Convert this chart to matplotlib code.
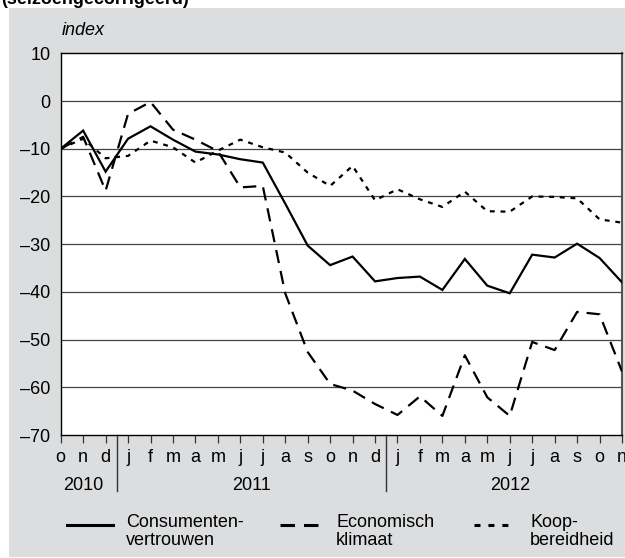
import matplotlib
matplotlib.use("Agg")
import matplotlib.pyplot as plt
from matplotlib.lines import Line2D
from matplotlib.patches import Rectangle
from matplotlib.transforms import blended_transform_factory
import numpy as np

plt.rcParams['font.family'] = ['Liberation Sans', 'DejaVu Sans']

# ---- data ----
months = ['o', 'n', 'd', 'j', 'f', 'm', 'a', 'm', 'j', 'j', 'a', 's', 'o', 'n', 'd',
          'j', 'f', 'm', 'a', 'm', 'j', 'j', 'a', 's', 'o', 'n']
month_year = ['2010'] * 3 + ['2011'] * 12 + ['2012'] * 11
years = ['2010', '2011', '2012']

consumentenvertrouwen = [-10, -6.2, -14.8, -7.9, -5.3, -8.1, -10.6, -11.2, -12.2, -12.9,
                         -21.5, -30.3, -34.4, -32.6, -37.8, -37.1, -36.8, -39.6, -33.1,
                         -38.7, -40.3, -32.2, -32.8, -29.9, -32.9, -38.0]
economisch_klimaat = [-10, -7.5, -18.8, -2.7, -0.2, -6.0, -8.1, -10.5, -18.1, -17.8,
                      -40.3, -52.6, -59.3, -60.7, -63.5, -65.8, -61.9, -66.0, -53.3,
                      -62.1, -66.0, -50.5, -52.2, -44.2, -44.7, -56.7]
koopbereidheid = [-10, -7.9, -12.0, -11.5, -8.3, -9.7, -12.9, -10.4, -8.1, -9.7,
                  -10.8, -15.0, -17.8, -13.6, -20.8, -18.5, -20.6, -22.2, -19.0,
                  -23.1, -23.2, -20.0, -20.1, -20.4, -24.8, -25.5]
series_labels = ['Consumenten-\nvertrouwen', 'Economisch\nklimaat', 'Koop-\nbereidheid']
yticks = [10, 0, -10, -20, -30, -40, -50, -60, -70]

# ---- figure ----
W, H = 625, 558
fig = plt.figure(figsize=(W / 100, H / 100), dpi=100)
fig.patch.set_facecolor('white')

def fx(px):
    return px / W

def fy(py):
    return 1 - py / H

gray = '#dcdddf'
fig.patches.append(Rectangle((fx(9), fy(556.7)), fx(625) - fx(9), fy(8.3) - fy(556.7),
                             transform=fig.transFigure, facecolor=gray, edgecolor='none',
                             zorder=-10))

left, right, top, bottom = 60.7, 622, 53.3, 435
ax = fig.add_axes([fx(left), fy(bottom), fx(right) - fx(left), fy(top) - fy(bottom)])
ax.set_facecolor('white')

x = np.arange(len(months))
ax.plot(x, consumentenvertrouwen, color='black', lw=1.6, solid_joinstyle='miter', zorder=3)
ax.plot(x, economisch_klimaat, color='black', lw=1.6, dashes=(6.0, 3.6), zorder=3)
ax.plot(x, koopbereidheid, color='black', lw=1.6, dashes=(2.2, 2.6), zorder=3)

ax.set_xlim(0, len(months) - 1)
ax.set_ylim(-70, 10)
ax.set_yticks(yticks)
ax.set_yticklabels([('\u2013' + str(abs(v))) if v < 0 else str(v) for v in yticks],
                   fontsize=13)
ax.tick_params(axis='y', length=0, pad=7.5)
for v in yticks[1:-1]:
    ax.axhline(v, color='#444444', lw=0.9, zorder=1)
for s in ax.spines.values():
    s.set_color('black')
    s.set_linewidth(1.0)
ax.spines['right'].set_color('#555555')
ax.spines['right'].set_linewidth(1.5)

ax.set_xticks(x)
ax.tick_params(axis='x', length=5.8, width=0.9, color='#333333', labelbottom=False)

tr = blended_transform_factory(ax.transData, fig.transFigure)
for i, m in enumerate(months):
    ax.text(i, fy(462), m, transform=tr, ha='center', va='baseline', fontsize=13,
            clip_on=False)
for yr in years:
    idx = [i for i, y in enumerate(month_year) if y == yr]
    ax.text(np.mean(idx), fy(490), yr, transform=tr, ha='center', va='baseline',
            fontsize=13, clip_on=False)
# year dividers
for i in range(1, len(month_year)):
    if month_year[i] != month_year[i - 1]:
        ax.add_line(Line2D([i - 0.5, i - 0.5], [fy(bottom), fy(491)], transform=tr,
                           color='#333333', lw=1.0, clip_on=False))

# titles
fig.text(fx(1), fy(3.5), '(seizoengecorrigeerd)', fontsize=13, fontweight='bold',
         va='baseline', ha='left')
fig.text(fx(61.7), fy(35), 'index', fontsize=13, style='italic', va='baseline', ha='left')

# legend (manual)
styles = [dict(), dict(dashes=(4.75, 2.95)), dict(dashes=(1.96, 2.6))]
key_x = [(67, 113), (280, 318), (474, 508)]
text_x = [125.7, 336, 530]
for lab, st, (x0, x1), tx in zip(series_labels, styles, key_x, text_x):
    fig.add_artist(Line2D([fx(x0), fx(x1)], [fy(525), fy(525)], transform=fig.transFigure,
                          color='black', lw=2.2, **st))
    fig.text(fx(tx), fy(514), lab, fontsize=13, va='top', ha='left', linespacing=1.08)

fig.savefig('out.png', dpi=100, facecolor='white')
